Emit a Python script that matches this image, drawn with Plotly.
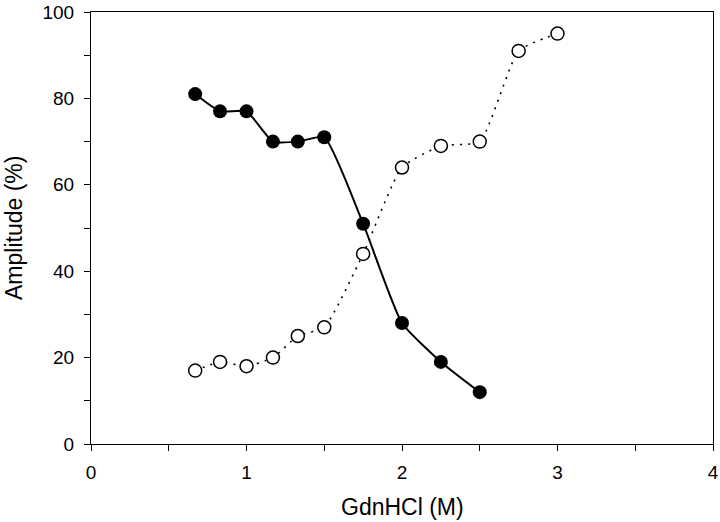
import plotly.graph_objects as go

# GdnHCl concentration (M)
x_filled = [0.67, 0.83, 1.0, 1.17, 1.33, 1.5, 1.75, 2.0, 2.25, 2.5]
y_filled = [81, 77, 77, 70, 70, 71, 51, 28, 19, 12]

x_open = [0.67, 0.83, 1.0, 1.17, 1.33, 1.5, 1.75, 2.0, 2.25, 2.5, 2.75, 3.0]
y_open = [17, 19, 18, 20, 25, 27, 44, 64, 69, 70, 91, 95]

font_name = 'Liberation Sans, Arial'

fig = go.Figure()

fig.add_trace(go.Scatter(
    x=x_open, y=y_open, mode='lines+markers',
    line=dict(color='black', width=1.6, dash='2px,6px', shape='spline', smoothing=0.5),
    marker=dict(symbol='circle', size=13, color='white',
                line=dict(color='black', width=1.5)),
))
fig.add_trace(go.Scatter(
    x=x_filled, y=y_filled, mode='lines+markers',
    line=dict(color='black', width=2, shape='spline', smoothing=0.5),
    marker=dict(symbol='circle', size=14, color='black'),
))

axis_style = dict(
    showline=True, linecolor='black', linewidth=1.2, mirror=True,
    ticks='outside', ticklen=6, tickcolor='black', tickwidth=1,
    showgrid=False, zeroline=False, automargin=False,
    tickfont=dict(family=font_name, size=19, color='black'),
)

fig.update_xaxes(
    range=[0, 4], dtick=1, tick0=0, ticklabelstandoff=5,
    minor=dict(dtick=0.5, ticks='outside', ticklen=6, tickcolor='black'),
    **axis_style,
)
fig.update_yaxes(
    range=[0, 100], dtick=20, tick0=0, ticklabelstandoff=6,
    minor=dict(dtick=10, ticks='outside', ticklen=6, tickcolor='black'),
    **axis_style,
)

fig.add_annotation(text='GdnHCl (M)', xref='paper', yref='paper', x=0.5, y=0,
                   yanchor='middle', yshift=-63, showarrow=False,
                   font=dict(family=font_name, size=23, color='black'))
fig.add_annotation(text='Amplitude (%)', xref='paper', yref='paper', x=0, y=0.5,
                   xanchor='center', xshift=-77, textangle=-90, showarrow=False,
                   font=dict(family=font_name, size=23, color='black'))

fig.update_layout(
    width=720, height=522,
    margin=dict(l=91, r=7, t=12, b=78),
    plot_bgcolor='white', paper_bgcolor='white',
    showlegend=False,
)

# drop the browser's default body margin so the figure sits at the page corner
fig.write_html("out.html", config={'displayModeBar': False},
               post_script="document.body.style.margin='0';")
